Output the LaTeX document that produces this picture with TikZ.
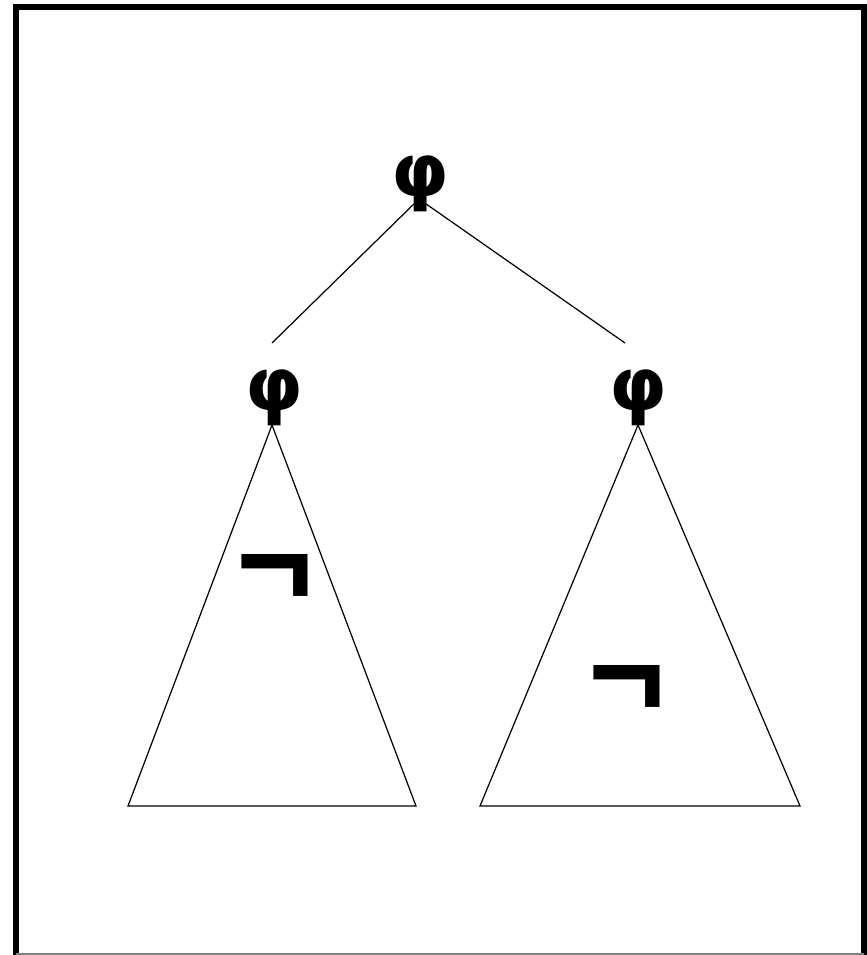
\documentclass[tikz,border=0pt]{standalone}
\usepackage{fontspec}
\setmainfont{Liberation Sans}
\newfontfamily\phifont{DejaVu Sans}[BoldFont={DejaVu Sans Bold}]
\tikzset{
  phinode/.style={font=\phifont\fontsize{42}{42}\selectfont\bfseries, inner sep=0pt},
  negnode/.style={font=\fontsize{75}{75}\selectfont\bfseries, inner sep=0pt},
  branch/.style={line width=0.7pt},
  frame/.style={line width=3.4pt}
}
\begin{document}
\begin{tikzpicture}[x=0.02cm, y=-0.02cm]
    \useasboundingbox (0,0) rectangle (866,955);
    % outer frame
    \draw[frame] (16,960) -- (16,7) -- (863.5,7) -- (863.5,960);
    \draw[gray, line width=0.8pt] (16,954) -- (863.5,954);

    % formula nodes
    \node[phinode] (root) at (420,184) {φ};
    \node[phinode] (left) at (274,398) {φ};
    \node[phinode] (right) at (638,398) {φ};

    % ends of the branches
    \coordinate (lend) at (272,343);
    \coordinate (rend) at (625,343);
    \coordinate (rootfoot) at (419,199);
    \draw[branch] (rootfoot) -- (lend);
    \draw[branch] (rootfoot) -- (rend);

    % subtrees
    \coordinate (ltop) at (272,425);
    \coordinate (rtop) at (638,425);
    \draw[branch] (ltop) -- (128,806) -- (416,806) -- cycle;
    \draw[branch] (rtop) -- (480,806) -- (800,806) -- cycle;

    % negations
    \node[negnode] (lneg) at (275,580) {¬};
    \node[negnode] (rneg) at (627,691) {¬};
\end{tikzpicture}
\end{document}
